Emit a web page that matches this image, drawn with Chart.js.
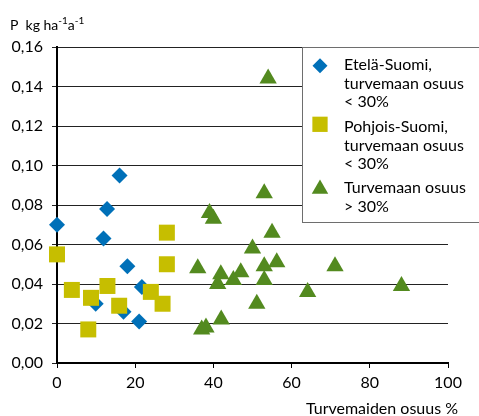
<!DOCTYPE html>
<html>
<head>
<meta charset="utf-8">
<script src="https://cdn.jsdelivr.net/npm/chart.js@4.4.1/dist/chart.umd.min.js"></script>
<style>
  html, body { margin: 0; padding: 0; background: #fff; }
  #wrap { width: 479px; height: 416px; position: relative; }
</style>
</head>
<body>
<div id="wrap"><canvas id="chart"></canvas></div>
<script>
// Data
const southShare = [0, 11.9, 12.8, 16, 18, 21.7, 9.9, 17, 21];
const southP     = [0.070, 0.063, 0.078, 0.095, 0.049, 0.0385, 0.030, 0.026, 0.021];

const northShare = [0, 3.8, 8.0, 8.7, 12.9, 15.9, 24, 27, 28.1, 28.1];
const northP     = [0.055, 0.037, 0.017, 0.033, 0.039, 0.029, 0.036, 0.030, 0.066, 0.050];

const peatShare = [54, 53, 39, 40, 55, 50, 36, 56.2, 53, 47, 41.9, 45.1, 41.1, 53, 51.1, 42, 38.1, 37, 71.1, 64.1, 88.1];
const peatP     = [0.144, 0.086, 0.076, 0.073, 0.066, 0.058, 0.048, 0.051, 0.049, 0.046, 0.045, 0.042, 0.040, 0.042, 0.030, 0.022, 0.018, 0.017, 0.049, 0.036, 0.039];

const seriesLabels = [
  ['Etelä-Suomi,', 'turvemaan osuus', '< 30%'],
  ['Pohjois-Suomi,', 'turvemaan osuus', '< 30%'],
  ['Turvemaan osuus', '> 30%']
];
const yTitle = [['P  kg ha', false], ['-1', true], ['a', false], ['-1', true]];
const xTitle = 'Turvemaiden osuus %';

const FONT = 'Lato, "DejaVu Sans", sans-serif';

function toPoints(xs, ys) {
  return xs.map((x, i) => ({ x: x, y: ys[i] }));
}

// Titles and the boxed legend are drawn by hand
const overlay = {
  id: 'overlay',
  afterDraw(chart) {
    const ctx = chart.ctx;
    ctx.save();
    ctx.fillStyle = '#000';

    // y title with superscripts
    ctx.textBaseline = 'alphabetic';
    ctx.textAlign = 'left';
    let x = 10;
    for (const [t, sup] of yTitle) {
      ctx.font = (sup ? '10px ' : '14px ') + FONT;
      ctx.fillText(t, x, sup ? 24 : 30);
      x += ctx.measureText(t).width;
    }

    // x title, right aligned under the axis
    ctx.font = '16px ' + FONT;
    ctx.textAlign = 'right';
    ctx.fillText(xTitle, 458, 414);

    // legend box
    const box = { x: 302, y: 47, w: 180, h: 175 };
    ctx.fillStyle = '#fff';
    ctx.fillRect(box.x, box.y, box.w, box.h);
    ctx.strokeStyle = '#6e6e6e';
    ctx.lineWidth = 1;
    ctx.strokeRect(box.x + 0.5, box.y + 0.5, box.w, box.h);

    const firstLine = [65, 127, 188];
    const markerY = [65.7, 124.3, 189];
    chart.data.datasets.forEach((ds, i) => {
      ctx.fillStyle = ds.backgroundColor;
      Chart.helpers.drawPoint(ctx, {
        pointStyle: ds.pointStyle, rotation: 0, radius: ds.pointRadius - 0.5, borderWidth: 0
      }, 320, markerY[i]);
      ctx.fillStyle = '#000';
      ctx.font = '16px ' + FONT;
      ctx.textAlign = 'left';
      ctx.textBaseline = 'middle';
      seriesLabels[i].forEach((line, j) => {
        ctx.fillText(line, 344, firstLine[i] + j * 18.4);
      });
    });
    ctx.restore();
  }
};

new Chart(document.getElementById('chart'), {
  type: 'scatter',
  data: {
    datasets: [
      {
        label: seriesLabels[0].join(' '),
        data: toPoints(southShare, southP),
        pointStyle: 'rectRot',
        pointRadius: 8,
        backgroundColor: '#0070B8',
        borderWidth: 0,
        clip: false,
        order: 3
      },
      {
        label: seriesLabels[1].join(' '),
        data: toPoints(northShare, northP),
        pointStyle: 'rect',
        pointRadius: 11.3,
        backgroundColor: '#C6BE00',
        borderWidth: 0,
        clip: false,
        order: 2
      },
      {
        label: seriesLabels[2].join(' '),
        data: toPoints(peatShare, peatP),
        pointStyle: 'triangle',
        pointRadius: 10,
        backgroundColor: '#538A1F',
        borderWidth: 0,
        clip: false,
        order: 1
      }
    ]
  },
  options: {
    responsive: true,
    maintainAspectRatio: false,
    animation: false,
    layout: { padding: { top: 47, right: 31, left: 0, bottom: 0 } },
    plugins: {
      legend: { display: false },
      tooltip: { enabled: false }
    },
    scales: {
      x: {
        type: 'linear',
        min: 0,
        max: 100,
        afterFit(scale) { scale.height = 53; },
        border: { color: '#000', width: 2 },
        grid: { drawOnChartArea: false, drawTicks: true, tickLength: 5, color: '#000' },
        ticks: {
          stepSize: 20,
          color: '#000',
          padding: 5,
          font: { family: FONT, size: 16 }
        }
      },
      y: {
        min: 0,
        max: 0.16,
        afterFit(scale) { scale.width = 57; },
        border: { color: '#000', width: 2 },
        grid: { color: '#222', lineWidth: 1, tickLength: 5 },
        ticks: {
          stepSize: 0.02,
          color: '#000',
          padding: 9,
          font: { family: FONT, size: 16 },
          callback: function(value) { return value.toFixed(2).replace('.', ','); }
        }
      }
    }
  },
  plugins: [overlay]
});
</script>
</body>
</html>
